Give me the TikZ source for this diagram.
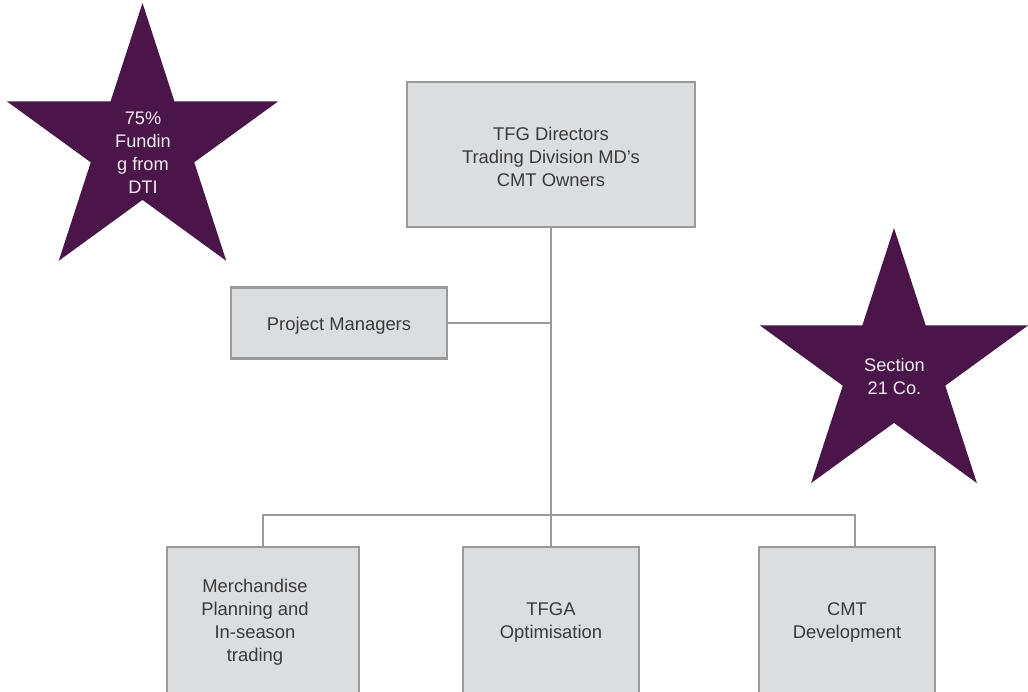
\documentclass[tikz,border=0pt]{standalone}
\usepackage{fontspec}
\setmainfont{Liberation Sans}
\begin{document}
\definecolor{boxfill}{HTML}{DCDDDF}
\definecolor{boxline}{HTML}{9A9A9A}
\definecolor{txt}{HTML}{3A3A3A}
\definecolor{starfill}{HTML}{4A1649}
\definecolor{startxt}{HTML}{F2EAF2}
\begin{tikzpicture}[x=1pt,y=-1pt,
  orgbox/.style={draw=boxline, line width=2.4pt, fill=boxfill, inner sep=0pt},
  boxtext/.style={text=txt, align=center, inner sep=0pt, yshift=-2.5pt,
    font=\fontsize{18.4}{23}\selectfont},
  link/.style={draw=boxline, line width=2pt},
  startext/.style={text=startxt, align=center, inner sep=0pt,
    font=\fontsize{18.2}{23}\selectfont},
  starshape/.style={fill=starfill}]
\useasboundingbox (0,0) rectangle (1028,691);
\begin{scope}
\clip (0,0) rectangle (1028,691);

% purple stars
\fill[starshape] (142.5,145.5) ++(90:-142.5)
  \foreach \k in {1,...,9} {-- ({142.5+(mod(\k,2)==1 ? 54.4 : 142.5)*cos(90+36*\k)}, {145.5-(mod(\k,2)==1 ? 54.4 : 142.5)*sin(90+36*\k)})} -- cycle;
\fill[starshape] (894,369) ++(90:-141)
  \foreach \k in {1,...,9} {-- ({894+(mod(\k,2)==1 ? 53.9 : 141)*cos(90+36*\k)}, {369-(mod(\k,2)==1 ? 53.9 : 141)*sin(90+36*\k)})} -- cycle;
\node[startext] (fund) at (143,153) {75\%\\Fundin\\g from\\DTI};
\node[startext] (sec) at (894.5,376.5) {Section\\21 Co.};

% boxes
\node[orgbox, minimum width=288pt, minimum height=145pt] (top) at (551,154.5) {};
\node[orgbox, minimum width=216pt, minimum height=71pt] (pm) at (339,323) {};
\node[orgbox, minimum width=192pt, minimum height=146pt] (merch) at (263,620) {};
\node[orgbox, minimum width=176pt, minimum height=146pt] (tfga) at (551,620) {};
\node[orgbox, minimum width=176pt, minimum height=146pt] (cmt) at (847,620) {};

% box labels
\node[boxtext] (toptext) at (top) {TFG Directors\\Trading Division MD’s\\CMT Owners};
\node[boxtext] (pmtext) at (pm) {Project Managers};
\node[boxtext, xshift=-8pt] (merchtext) at (merch) {Merchandise\\Planning and\\In-season\\trading};
\node[boxtext] (tfgatext) at (tfga) {TFGA\\Optimisation};
\node[boxtext] (cmttext) at (cmt) {CMT\\Development};

% connectors
\coordinate (pmj) at (551,323);
\coordinate (busc) at (551,515);
\draw[link] (top.south) -- (busc);
\draw[link] (pm.east) -- (pmj);
\draw[link] (merch.north) |- (busc);
\draw[link] (busc) -| ([xshift=8pt]cmt.north);
\draw[link] (tfga.north) -- (busc);
\end{scope}
\end{tikzpicture}
\end{document}
